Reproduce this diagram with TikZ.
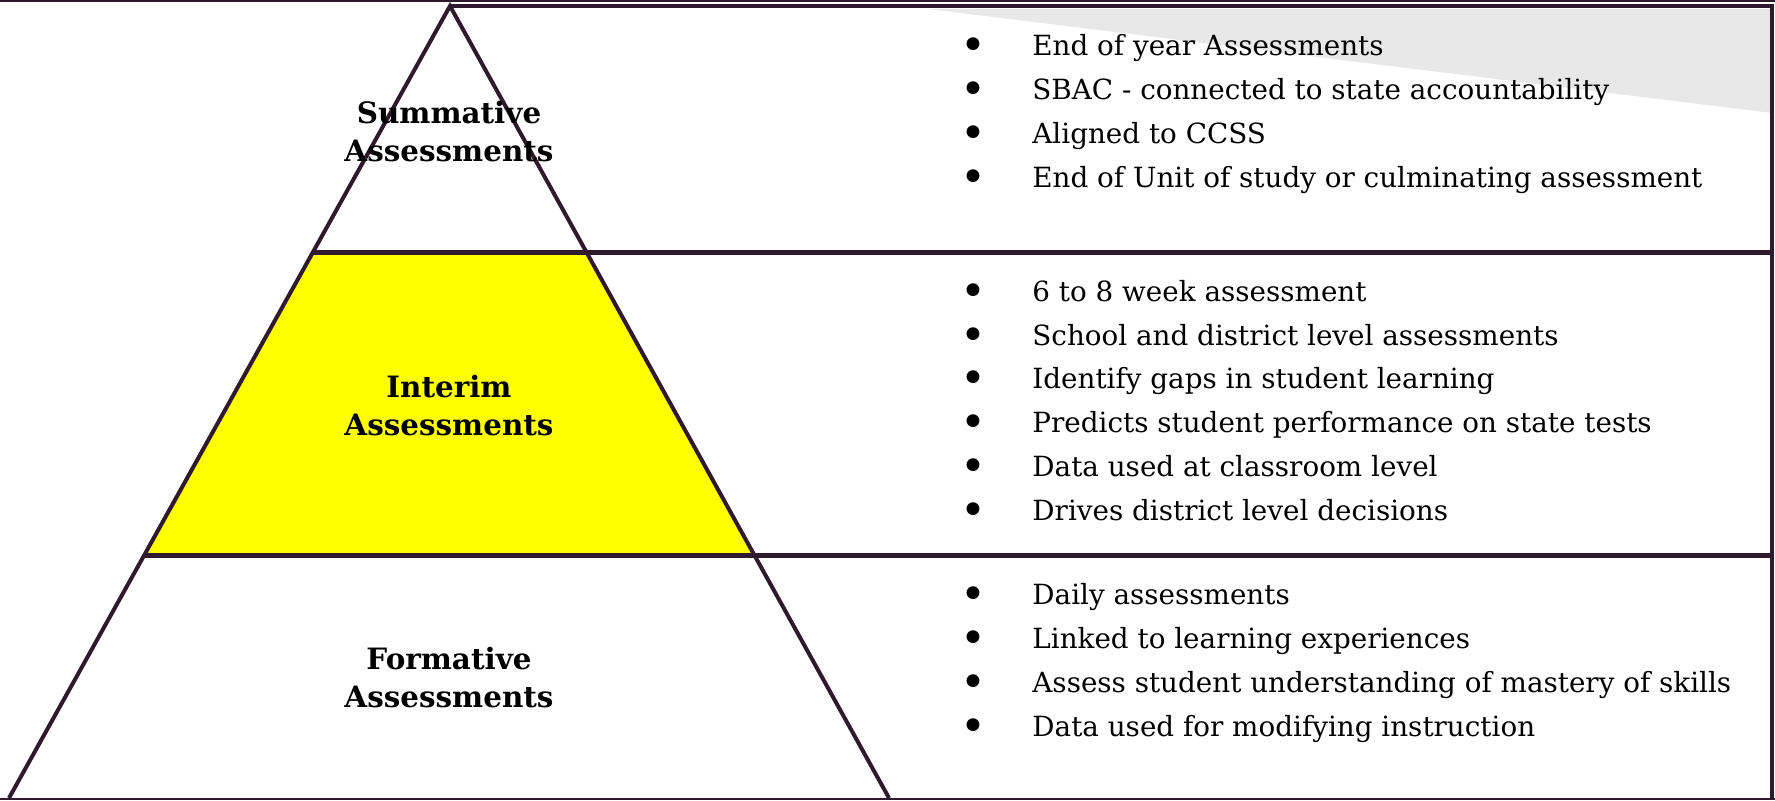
\documentclass[tikz,border=0pt]{standalone}
\usepackage{fontspec}
\setmainfont{DejaVu Serif}
\usetikzlibrary{calc}
\definecolor{edgecol}{HTML}{2E1A2C}
\definecolor{cornergray}{HTML}{E8E8E8}
\definecolor{tieryellow}{HTML}{FFFF00}
\begin{document}
\begin{tikzpicture}[x=0.5pt,y=-0.5pt,
  tier/.style={font=\bfseries\fontsize{14.7}{19}\selectfont, align=center, text=black},
  item/.style={anchor=west, inner sep=0pt, text height=1.6ex, text depth=.4ex, font=\fontsize{13.9}{15}\selectfont},
  dot/.style={inner sep=0pt, font=\fontsize{22}{22}\selectfont}]
    \useasboundingbox (0,0) rectangle (1775,800);
    \coordinate (apex) at (450,6);
    \coordinate (bl) at (9,798);
    \coordinate (br) at (889,798);
    \coordinate (l1) at ($(apex)!0.3106!(bl)$);
    \coordinate (r1) at ($(apex)!0.3106!(br)$);
    \coordinate (l2) at ($(apex)!0.6944!(bl)$);
    \coordinate (r2) at ($(apex)!0.6944!(br)$);

    % grey corner and yellow band
    \fill[cornergray] (928,9) -- (1772,9) -- (1772,113) -- cycle;
    \fill[tieryellow] (l1) -- (r1) -- (r2) -- (l2) -- cycle;

    % frame
    \draw[edgecol, line width=1pt] (0,1) -- (1775,1);
    \draw[edgecol, line width=1pt] (0,799) -- (1775,799);
    \draw[edgecol, line width=2.2pt] (apex) -- (1772,6) -- (1772,799);
    \draw[edgecol, line width=2.5pt] (l1) -- (1772,252 |- l1);
    \draw[edgecol, line width=2.5pt] (l2) -- (1772,556 |- l2);
    \draw[edgecol, line width=2pt] (bl) -- (apex) -- (br);

    % tier names
    \node[tier] (summ) at (449,132) {Summative\\Assessments};
    \node[tier] (inter) at (449,406) {Interim\\Assessments};
    \node[tier] (form) at (449,678) {Formative\\Assessments};

    % bullet lists
    \foreach \txt [count=\i] in {End of year Assessments, SBAC - connected to state accountability, Aligned to CCSS, End of Unit of study or culminating assessment}{
      \node[dot] (sd\i) at (973,{49+44*(\i-1)}) {•};
      \node[item] (si\i) at (1032,{49+44*(\i-1)}) {\txt};
    }
    \foreach \txt [count=\i] in {6 to 8 week assessment, School and district level assessments, Identify gaps in student learning, Predicts student performance on state tests, Data used at classroom level, Drives district level decisions}{
      \node[dot] (id\i) at (973,{295+43.8*(\i-1)}) {•};
      \node[item] (ii\i) at (1032,{295+43.8*(\i-1)}) {\txt};
    }
    \foreach \txt [count=\i] in {Daily assessments, Linked to learning experiences, Assess student understanding of mastery of skills, Data used for modifying instruction}{
      \node[dot] (fd\i) at (973,{598+44*(\i-1)}) {•};
      \node[item] (fi\i) at (1032,{598+44*(\i-1)}) {\txt};
    }
\end{tikzpicture}
\end{document}
